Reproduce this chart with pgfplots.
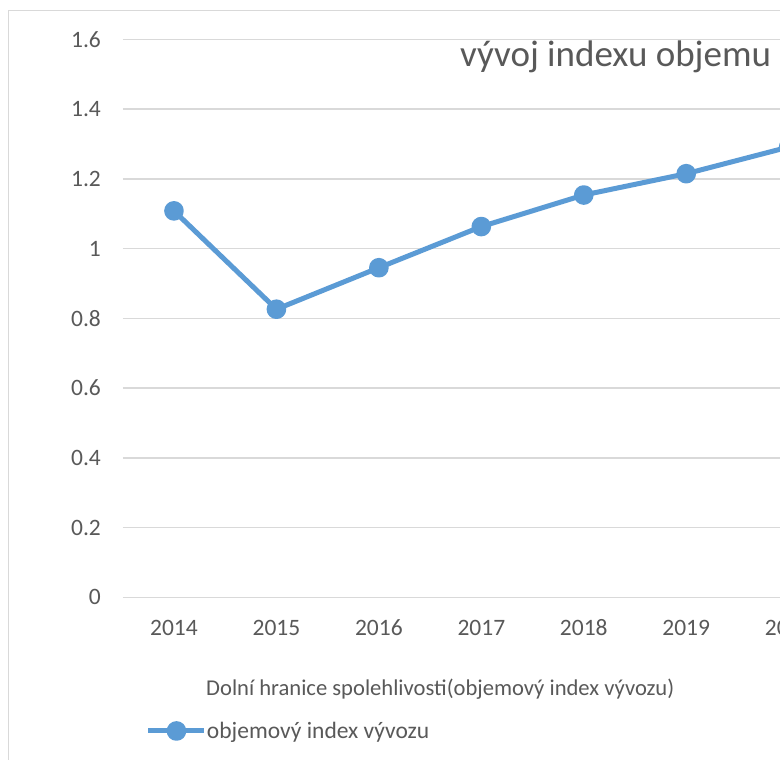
\documentclass[border=0pt]{standalone}
\usepackage{pgfplots}
\pgfplotsset{compat=1.18}
\usepackage{fontspec}
\setmainfont{Carlito}
\definecolor{exblue}{HTML}{5B9BD5}
\definecolor{txtgray}{HTML}{595959}
\definecolor{gridgray}{HTML}{D9D9D9}
\begin{document}
\begin{tikzpicture}
\useasboundingbox (0pt,0pt) rectangle (780pt,760pt);
\clip (0pt,0pt) rectangle (780pt,760pt);
\fill[white] (0pt,0pt) rectangle (780pt,760pt);
\draw[gridgray, line width=1.5pt] (8.3pt,-20pt) -- (8.3pt,749.3pt) -- (800pt,749.3pt);
\begin{axis}[
  at={(122.75pt,162.7pt)}, anchor=south west,
  x=102.45pt, y=348.75pt,
  xmin=-0.5, xmax=6.5, ymin=0, ymax=1.6,
  axis line style={draw=none},
  tick style={draw=none},
  major tick length=0pt,
  ymajorgrids=true,
  grid style={gridgray, line width=1.5pt},
  ytick={0,0.2,0.4,0.6,0.8,1,1.2,1.4,1.6},
  yticklabels={0,0.2,0.4,0.6,0.8,1,1.2,1.4,1.6},
  xtick={0,1,2,3,4,5,6},
  xticklabels={2014,2015,2016,2017,2018,2019,2020},
  /pgf/number format/assume math mode=true,
  ticklabel style={font=\fontsize{23.5}{28}\selectfont, text=txtgray},
  yticklabel style={anchor=east, inner sep=0pt, xshift=-21.7pt},
  xticklabel style={anchor=base, inner sep=0pt, yshift=-38.7pt},
  clip=false,
  legend style={draw=none, fill=none, inner sep=0pt, outer sep=0pt,
    at={(axis description cs:0.0324,-0.2396)}, anchor=west,
    font=\fontsize{23.5}{28}\selectfont, text=txtgray,
    nodes={inner sep=0pt},
    /tikz/every even column/.append style={column sep=4pt}},
  legend image code/.code={\draw[#1, mark repeat=2, mark phase=2] plot coordinates {(0pt,0pt) (28pt,0pt) (56pt,0pt)};},
]
\addplot[exblue, line width=5pt, line join=round, mark=*, mark size=7.3pt,
  mark options={draw=none, fill=exblue}]
  coordinates {(0,1.108) (1,0.826) (2,0.945) (3,1.063) (4,1.1535) (5,1.2146) (6,1.291)};
\addlegendentry{objemový index vývozu}
\end{axis}
\node[anchor=base west, inner sep=0pt, text=txtgray, font=\fontsize{37}{44}\selectfont] at (460pt,693.3pt) {vývoj indexu objemu};
\node[anchor=base west, inner sep=0pt, text=txtgray, font=\fontsize{22.6}{27}\selectfont] at (206pt,64pt) {Dolní hranice spolehlivosti(objemový index vývozu)};
\end{tikzpicture}
\end{document}
